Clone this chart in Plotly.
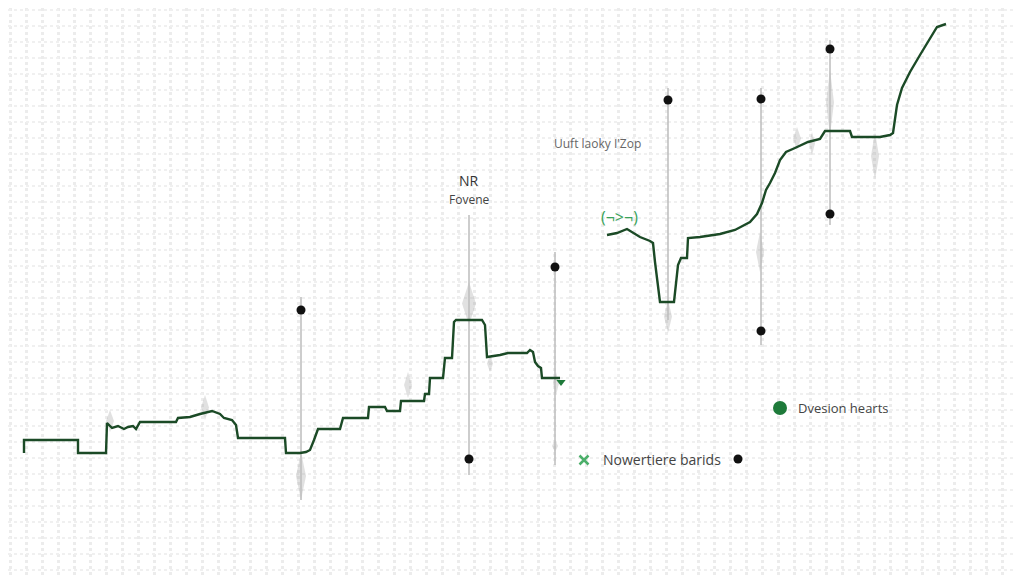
import plotly.graph_objects as go

# ---- data (x in chart units, y in chart units; y axis runs downward) ----
seg1_x = [24, 24, 78, 78, 106, 107, 112, 118, 124, 128, 133, 136, 140, 176, 178, 190, 200, 208, 212, 220, 224, 232, 236, 238, 285, 286, 300, 306, 310, 314, 318, 340, 343, 368, 369, 385, 387, 400, 401, 424, 425, 429, 430, 443, 445, 452, 454, 456, 482, 485, 487, 500, 508, 527, 530, 533, 535, 538, 541, 542, 560]
seg1_y = [453, 440, 440, 453, 453, 423, 428, 426, 429, 427, 426, 429, 422, 422, 418, 417, 414, 412, 411, 414, 418, 420, 425, 438, 438, 453, 453, 452, 450, 440, 429, 429, 418, 418, 407, 407, 411, 411, 401, 401, 394, 394, 378, 378, 358, 358, 322, 320, 320, 325, 357, 355, 353, 353, 350, 352, 362, 366, 368, 378, 378]

seg2_x = [607, 617, 627, 640, 650, 653, 655, 658, 660, 674, 676, 678, 681, 687, 688, 700, 720, 735, 750, 757, 762, 766, 770, 775, 780, 786, 795, 808, 820, 825, 850, 852, 880, 890, 893, 897, 902, 910, 920, 930, 937, 946]
seg2_y = [235, 233, 229, 237, 241, 243, 262, 290, 302, 302, 280, 265, 258, 258, 238, 237, 234, 230, 222, 214, 203, 190, 183, 173, 160, 152, 148, 142, 139, 131, 131, 137, 137, 135, 133, 105, 88, 72, 55, 38, 27, 24]

# vertical range markers (x, top of line, bottom of line)
rng_x   = [301, 469, 555, 668, 761, 830]
rng_top = [297, 215, 252, 88, 88, 40]
rng_bot = [500, 475, 465, 320, 345, 225]
dot_x   = [301, 469, 555, 668, 761, 761, 830, 830]
dot_y   = [310, 459, 267, 100, 99, 331, 49, 214]

# faint spikes (x, top, bottom)
spk_x   = [110, 205, 301, 408, 469, 490, 556, 668, 760, 797, 812, 875, 830, 555]
spk_top = [410, 395, 452, 372, 282, 355, 372, 300, 232, 127, 132, 132, 70, 440]
spk_bot = [432, 420, 500, 398, 325, 372, 395, 333, 272, 150, 155, 180, 135, 452]
spk_w   = [4, 4, 5, 4, 7, 3, 3, 4, 4, 4, 3, 4, 4, 3]

fig = go.Figure()

# spikes
for x, t, b, w in zip(spk_x, spk_top, spk_bot, spk_w):
    m = (t + b) / 2
    fig.add_trace(go.Scatter(x=[x, x + w, x, x - w, x], y=[t, m, b, m, t], fill="toself",
                             fillcolor="rgba(170,170,170,0.35)", line=dict(width=0),
                             mode="lines", hoverinfo="skip", showlegend=False))

# range lines
for x, t, b in zip(rng_x, rng_top, rng_bot):
    fig.add_trace(go.Scatter(x=[x, x], y=[t, b], mode="lines",
                             line=dict(color="#bdbdbd", width=1.5),
                             hoverinfo="skip", showlegend=False))

# main step lines
for xs, ys in [(seg1_x, seg1_y), (seg2_x, seg2_y)]:
    fig.add_trace(go.Scatter(x=xs, y=ys, mode="lines",
                             line=dict(color="#1b4a26", width=2.4),
                             showlegend=False))

# dots
fig.add_trace(go.Scatter(x=dot_x, y=dot_y, mode="markers",
                         marker=dict(color="#111111", size=9), showlegend=False))

# legend-like markers
fig.add_trace(go.Scatter(x=[780], y=[408], mode="markers",
                         marker=dict(color="#1e7a3a", size=14), showlegend=False))
fig.add_trace(go.Scatter(x=[584], y=[460], mode="markers",
                         marker=dict(color="#4caf6a", size=9, symbol="x-thin",
                                     line=dict(color="#4caf6a", width=2.5)), showlegend=False))
fig.add_trace(go.Scatter(x=[738], y=[459], mode="markers",
                         marker=dict(color="#111111", size=9), showlegend=False))
fig.add_trace(go.Scatter(x=[561], y=[382], mode="markers",
                         marker=dict(color="#1e7a3a", size=8, symbol="triangle-down"), showlegend=False))

texts = [
    (469, 180, "NR", "#333333", 14),
    (469, 199, "Fovene", "#444444", 12),
    (597, 143, "Uuft laoky I'Zop", "#666666", 12),
    (619, 217, "(¬>¬)", "#3aa35a", 16),
    (843, 408, "Dvesion hearts", "#444444", 13),
    (662, 459, "Nowertiere barids", "#444444", 14),
]
for x, y, t, c, s in texts:
    fig.add_annotation(x=x, y=y, text=t, showarrow=False,
                       font=dict(color=c, size=s, family="Open Sans"))

# page has an 8px body margin: figure is 1016x568 and shows x 8..1024, y 8..576
fig.update_xaxes(range=[8, 1024], showgrid=True, gridcolor="#ececec", gridwidth=2.5,
                 griddash="3px,3px", tick0=10, dtick=16, showticklabels=False,
                 zeroline=False, showline=False, ticks="")
fig.update_yaxes(range=[576, 8], showgrid=True, gridcolor="#f0f0f0", gridwidth=2,
                 griddash="3px,3px", tick0=10, dtick=16, showticklabels=False,
                 zeroline=False, showline=False, ticks="")
fig.update_layout(width=1016, height=568, margin=dict(l=0, r=0, t=0, b=0),
                  plot_bgcolor="white", paper_bgcolor="white")

fig.write_html("out.html")
